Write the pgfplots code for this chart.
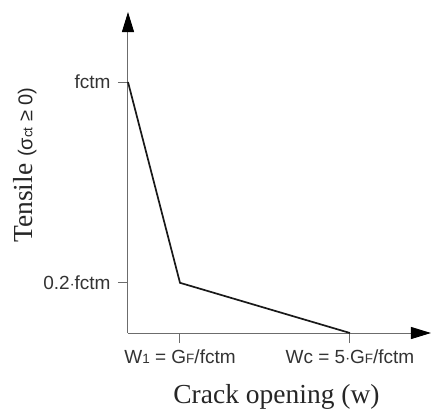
\documentclass[border=0pt]{standalone}
\usepackage{fontspec}
\setmainfont{Liberation Sans}
\newfontfamily\serif{Liberation Serif}
\usepackage{pgfplots}
\pgfplotsset{compat=1.18}
\usetikzlibrary{arrows.meta}
\newcommand{\sm}[1]{{\fontsize{13.5}{14}\selectfont #1}}
\begin{document}
\begin{tikzpicture}
\path (0,0) rectangle (432pt,-416pt);
\begin{axis}[
  at={(128pt,-333pt)}, anchor=origin,
  scale only axis, width=303pt, height=321pt,
  xmin=0, xmax=5.827, ymin=0, ymax=1.279,
  axis lines=left,
  axis line style={draw=gray!85!black, line width=1pt},
  x axis line style={-{Triangle[length=20pt,width=12pt,color=black]}},
  y axis line style={-{Triangle[length=20pt,width=12pt,color=black]}},
  tick align=outside,
  major tick length=10pt,
  tick style={draw=gray!85!black, line width=1pt},
  xtick={1,4.269},
  xticklabels={W\sm{1} = G\sm{F}/fctm, Wc = 5$\cdot$G\sm{F}/fctm},
  ytick={0.2,1},
  yticklabels={0.2$\cdot$fctm, fctm},
  ticklabel style={font=\fontsize{19}{22}\selectfont, text=black!80},
  xticklabel style={yshift=-3pt},
  yticklabel style={xshift=-4pt},
  xlabel={\serif Crack opening (w)},
  ylabel={\serif Tensile {\normalfont\fontsize{20}{22}\selectfont (σ\sm{ct} ≥ 0)}},
  xlabel style={at={(axis description cs:0.49,-0.2)}, anchor=center, font=\fontsize{27.5}{30}\selectfont, text=black!85},
  ylabel style={at={(axis description cs:-0.34,0.523)}, anchor=center, rotate=0, font=\fontsize{27.5}{30}\selectfont, text=black!85},
  clip=false,
]
\addplot[draw=black!90, line width=1.7pt, mark=none] coordinates {(0,1) (1,0.2) (4.269,0)};
\end{axis}
\end{tikzpicture}
\end{document}
